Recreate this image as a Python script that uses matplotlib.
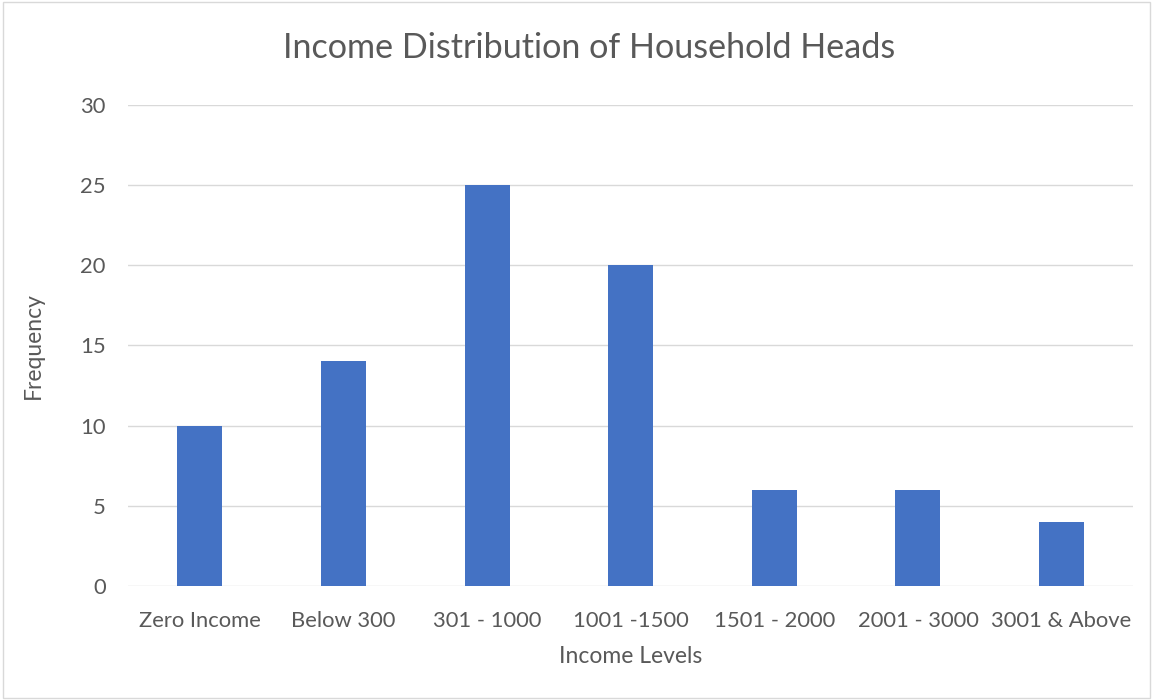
import matplotlib.pyplot as plt
from matplotlib.patches import Rectangle

categories = ['Zero Income', 'Below 300', '301 - 1000', '1001 -1500',
              '1501 - 2000', '2001 - 3000', '3001 & Above']
frequency = [10, 14, 25, 20, 6, 6, 4]
y_ticks = [0, 5, 10, 15, 20, 25, 30]

text_color = '#595959'
plt.rcParams['font.family'] = ['Lato', 'DejaVu Sans']

fig = plt.figure(figsize=(11.53, 7), dpi=100)
ax = fig.add_axes([0.111, 0.163, 0.872, 0.687])

x = range(len(categories))
ax.bar(x, frequency, width=0.313, color='#4472C4', zorder=3)

ax.set_xlim(-0.5, len(categories) - 0.5)
ax.set_ylim(0, 30)
ax.set_yticks(y_ticks)
ax.set_xticks(list(x))
ax.set_xticklabels(categories)
ax.yaxis.grid(True, color='#D9D9D9', linewidth=1, zorder=0)
for s in ax.spines.values():
    s.set_visible(False)
ax.tick_params(axis='both', length=0, labelsize=15.8, colors=text_color)
ax.tick_params(axis='x', pad=18)
ax.tick_params(axis='y', pad=16)

ax.set_xlabel('Income Levels', fontsize=16.5, color=text_color, labelpad=11)
ax.set_ylabel('Frequency', fontsize=16.5, color=text_color, labelpad=26)
fig.text(0.511, 0.931, 'Income Distribution of Household Heads',
         ha='center', va='center', fontsize=24.6, color=text_color)

fig.patches.append(Rectangle((0.003, 0.003), 0.994, 0.994, transform=fig.transFigure,
                             fill=False, edgecolor='#D9D9D9', linewidth=1))

fig.savefig('out.png', dpi=100)
